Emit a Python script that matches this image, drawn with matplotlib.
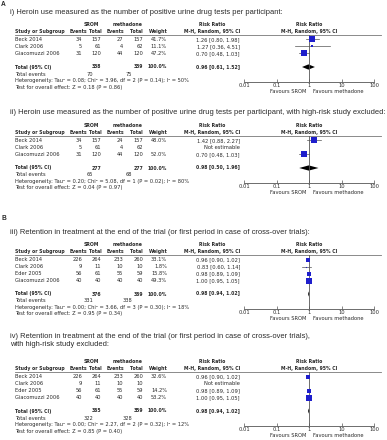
import matplotlib
matplotlib.use("Agg")
import matplotlib.pyplot as plt
import numpy as np

# ==========================
# Data
# ==========================
titles = [
    "i) Heroin use measured as the number of positive urine drug tests per participant:",
    "ii) Heroin use measured as the number of positive urine drug tests per participant, with high-risk study excluded:",
    "iii) Retention in treatment at the end of the trial (or first period in case of cross-over trials):",
    "iv) Retention in treatment at the end of the trial (or first period in case of cross-over trials),\nwith high-risk study excluded:",
]

studies_A = ["Beck 2014", "Clark 2006", "Giacomuzzi 2006"]
studies_B = ["Beck 2014", "Clark 2006", "Eder 2005", "Giacomuzzi 2006"]

# panel i
p1_srom_events = [34, 5, 31]
p1_srom_total = [157, 61, 120]
p1_meth_events = [27, 4, 44]
p1_meth_total = [157, 62, 120]
p1_weight = [41.7, 11.1, 47.2]
p1_rr = [1.26, 1.27, 0.70]
p1_lo = [0.80, 0.36, 0.48]
p1_hi = [1.98, 4.51, 1.03]
p1_sum = [338, 339, 0.96, 0.61, 1.52]
p1_events = [70, 75]
p1_het = "Heterogeneity: Tau² = 0.08; Chi² = 3.96, df = 2 (P = 0.14); I² = 50%"
p1_test = "Test for overall effect: Z = 0.18 (P = 0.86)"

# panel ii
p2_srom_events = [34, 5, 31]
p2_srom_total = [157, 61, 120]
p2_meth_events = [24, 4, 44]
p2_meth_total = [157, 62, 120]
p2_weight = [48.0, None, 52.0]
p2_rr = [1.42, None, 0.70]
p2_lo = [0.88, None, 0.48]
p2_hi = [2.27, None, 1.03]
p2_sum = [277, 277, 0.98, 0.50, 1.96]
p2_events = [65, 68]
p2_het = "Heterogeneity: Tau² = 0.20; Chi² = 5.08, df = 1 (P = 0.02); I² = 80%"
p2_test = "Test for overall effect: Z = 0.04 (P = 0.97)"

# panel iii
p3_srom_events = [226, 9, 56, 40]
p3_srom_total = [264, 11, 61, 40]
p3_meth_events = [233, 10, 55, 40]
p3_meth_total = [260, 10, 59, 40]
p3_weight = [33.1, 1.8, 15.8, 49.3]
p3_rr = [0.96, 0.83, 0.98, 1.00]
p3_lo = [0.90, 0.60, 0.89, 0.95]
p3_hi = [1.02, 1.14, 1.09, 1.05]
p3_sum = [376, 369, 0.98, 0.94, 1.02]
p3_events = [331, 338]
p3_het = "Heterogeneity: Tau² = 0.00; Chi² = 3.66, df = 3 (P = 0.30); I² = 18%"
p3_test = "Test for overall effect: Z = 0.95 (P = 0.34)"

# panel iv
p4_srom_events = [226, 9, 56, 40]
p4_srom_total = [264, 11, 61, 40]
p4_meth_events = [233, 10, 55, 40]
p4_meth_total = [260, 10, 59, 40]
p4_weight = [32.6, None, 14.2, 53.2]
p4_rr = [0.96, None, 0.98, 1.00]
p4_lo = [0.90, None, 0.89, 0.95]
p4_hi = [1.02, None, 1.09, 1.05]
p4_sum = [365, 359, 0.98, 0.94, 1.02]
p4_events = [322, 328]
p4_het = "Heterogeneity: Tau² = 0.00; Chi² = 2.27, df = 2 (P = 0.32); I² = 12%"
p4_test = "Test for overall effect: Z = 0.85 (P = 0.40)"

ticks = [0.01, 0.1, 1, 10, 100]
tick_labels = ["0.01", "0.1", "1", "10", "100"]

# ==========================
# Figure setup (pixel coordinates)
# ==========================
W, H = 387, 440
fig = plt.figure(figsize=(W / 100, H / 100), dpi=100)
base = fig.add_axes([0, 0, 1, 1])
base.set_xlim(0, W)
base.set_ylim(H, 0)
base.axis("off")

TXT = "#2a2a2a"
BLUE = "#1f1fcc"
FS = 3.7      # regular table text
BFS = 3.3     # bold table text (DejaVu bold runs wide)
TFS = 5.4
FAM = "DejaVu Sans"
TFAM = "Liberation Sans"

# forest plot x range in pixels
FX0, FX1 = 244, 374


def t(x, y, s, ha="left", bold=False, size=None, fam=FAM):
    if size is None:
        size = BFS if bold else FS
    base.text(x, y, s, ha=ha, va="center", fontsize=size, family=fam,
              color=TXT, fontweight="bold" if bold else "normal")


def draw_panel(y0, title, studies, se, st, me, mt, wt, rr, lo, hi, tot, ev, het, test, nlines=1):
    t(10, y0, title, size=TFS, fam=TFAM)
    y = y0 + 9 * (nlines - 1)
    h1, h2, line = y + 12.5, y + 19.5, y + 23
    # header
    t(91, h1, "SROM", ha="center", bold=True)
    t(128, h1, "methadone", ha="center", bold=True)
    t(212, h1, "Risk Ratio", ha="center", bold=True)
    t(309, h1, "Risk Ratio", ha="center", bold=True)
    t(15, h2, "Study or Subgroup", bold=True)
    t(87, h2, "Events", ha="right", bold=True)
    t(102, h2, "Total", ha="right", bold=True)
    t(124, h2, "Events", ha="right", bold=True)
    t(143, h2, "Total", ha="right", bold=True)
    t(168, h2, "Weight", ha="right", bold=True)
    t(240, h2, "M-H, Random, 95% CI", ha="right", bold=True)
    t(309, h2, "M-H, Random, 95% CI", ha="center", bold=True)
    base.plot([15, 381], [line, line], color="#777777", lw=0.6)

    rows = [y + 27.5 + 7 * i for i in range(len(studies))]
    for i, yy in enumerate(rows):
        t(15, yy, studies[i])
        t(82, yy, str(se[i]), ha="right")
        t(101, yy, str(st[i]), ha="right")
        t(123, yy, str(me[i]), ha="right")
        t(143, yy, str(mt[i]), ha="right")
        if wt[i] is not None:
            t(167, yy, f"{wt[i]:.1f}%", ha="right")
            t(240, yy, f"{rr[i]:.2f} [{lo[i]:.2f}, {hi[i]:.2f}]", ha="right")
        else:
            t(240, yy, "Not estimable", ha="right")

    ytot = rows[-1] + 13.5
    t(15, ytot, "Total (95% CI)", bold=True)
    t(101, ytot, str(tot[0]), ha="right", bold=True)
    t(143, ytot, str(tot[1]), ha="right", bold=True)
    t(167, ytot, "100.0%", ha="right", bold=True)
    t(240, ytot, f"{tot[2]:.2f} [{tot[3]:.2f}, {tot[4]:.2f}]", ha="right", bold=True)
    t(15, ytot + 7, "Total events")
    t(93, ytot + 7, str(ev[0]), ha="right")
    t(132, ytot + 7, str(ev[1]), ha="right")
    t(15, ytot + 13.5, het)
    t(15, ytot + 20, test)

    # forest plot axes
    yax = ytot + 14.5
    ax = fig.add_axes([FX0 / W, 1 - yax / H, (FX1 - FX0) / W, (yax - line) / H])
    ax.set_xscale("log")
    ax.set_xlim(0.01, 100)
    ax.set_ylim(yax, line)
    ax.patch.set_alpha(0)
    for s in ["top", "left", "right"]:
        ax.spines[s].set_visible(False)
    ax.spines["bottom"].set_color("#555555")
    ax.spines["bottom"].set_linewidth(0.6)
    ax.set_yticks([])
    ax.set_xticks(ticks)
    ax.set_xticklabels(tick_labels, fontsize=FS, family=FAM, color=TXT)
    ax.minorticks_off()
    ax.tick_params(axis="x", direction="in", length=2.2, width=0.5,
                   color="#555555", pad=1.0)
    ax.axvline(1, color="#555555", lw=0.6)

    for i, yy in enumerate(rows):
        if wt[i] is None:
            continue
        ax.plot([lo[i], hi[i]], [yy, yy], color="#555555", lw=0.5)
        side = 0.8 * np.sqrt(wt[i]) * 0.72
        ax.plot(rr[i], yy, marker="s", color=BLUE, markersize=side, mew=0)

    ax.fill([tot[3], tot[2], tot[4], tot[2]], [ytot, ytot - 2.6, ytot, ytot + 2.6],
            color="black", lw=0)

    t(306, yax + 10, "Favours SROM", ha="right")
    t(313, yax + 10, "Favours methadone", ha="left")


t(1, 4.5, "A", bold=True, size=4.8, fam=TFAM)
t(1, 218, "B", bold=True, size=4.8, fam=TFAM)

draw_panel(12, titles[0], studies_A, p1_srom_events, p1_srom_total, p1_meth_events,
           p1_meth_total, p1_weight, p1_rr, p1_lo, p1_hi, p1_sum, p1_events, p1_het, p1_test)
draw_panel(113, titles[1], studies_A, p2_srom_events, p2_srom_total, p2_meth_events,
           p2_meth_total, p2_weight, p2_rr, p2_lo, p2_hi, p2_sum, p2_events, p2_het, p2_test)
draw_panel(232, titles[2], studies_B, p3_srom_events, p3_srom_total, p3_meth_events,
           p3_meth_total, p3_weight, p3_rr, p3_lo, p3_hi, p3_sum, p3_events, p3_het, p3_test)
draw_panel(340, titles[3], studies_B, p4_srom_events, p4_srom_total, p4_meth_events,
           p4_meth_total, p4_weight, p4_rr, p4_lo, p4_hi, p4_sum, p4_events, p4_het, p4_test,
           nlines=2)

fig.savefig("out.png", dpi=100)
